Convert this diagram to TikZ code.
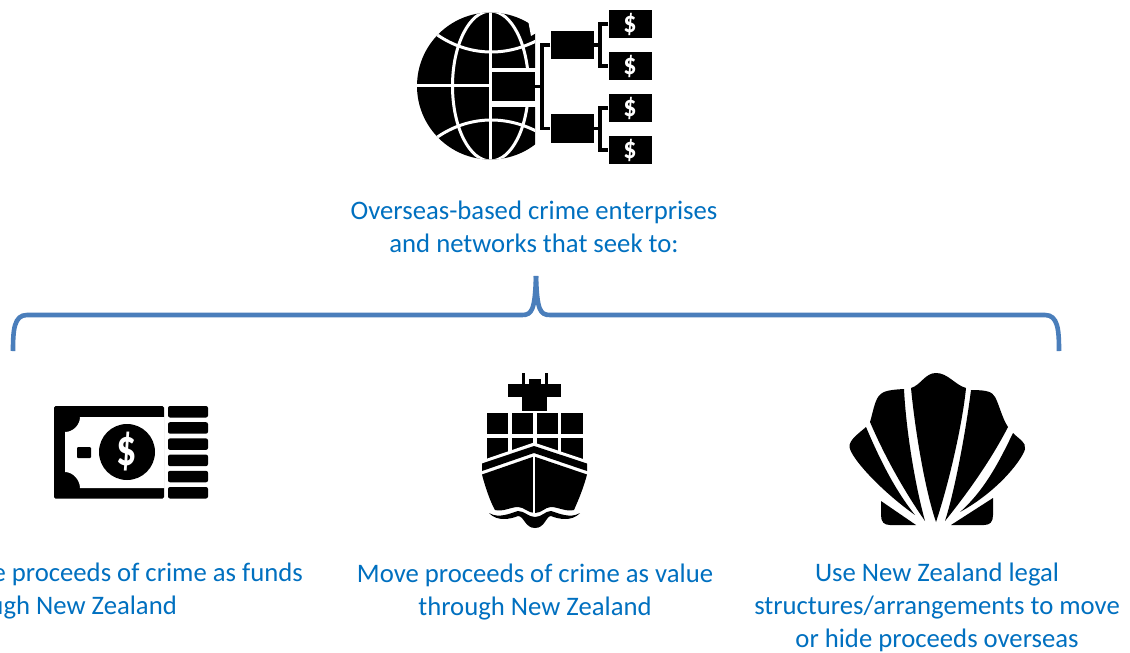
\documentclass[tikz,border=0pt]{standalone}
\usepackage{fontspec}
\setmainfont{Carlito}
\definecolor{txtblue}{HTML}{0070C0}
\definecolor{brace}{HTML}{4A7EBB}
\tikzset{
  lbl/.style={text=txtblue,font=\fontsize{26.7}{33}\selectfont,align=center,inner sep=0pt},
  frag/.style={text=txtblue,font=\fontsize{26.7}{33}\selectfont,inner sep=0pt},
  cut/.style={white,line width=3pt},
  wire/.style={black,line width=3.2pt},
  blk/.style={fill=black,draw=none,minimum width=43,minimum height=28.5,inner sep=0pt},
  dollar/.style={text=white,font=\bfseries\fontsize{26}{26}\selectfont,inner sep=0pt,yscale=1.15,transform shape}
}
\begin{document}
\begin{tikzpicture}[x=1pt,y=-1pt]
\useasboundingbox (0,0) rectangle (1130,653);
\fill[white] (0,0) rectangle (1130,653);
% globe
\begin{scope}
\clip (400,0) rectangle (535,170);
\fill[black] (490.5,86) circle[radius=73.5];
\begin{scope}
\clip (490.5,86) circle[radius=73.5];
\draw[cut] (490.5,0) -- (490.5,170);
\draw[cut] (410,85) -- (491,85);
\draw[cut] (490.5,86) ellipse[x radius=38,y radius=75];
\draw[cut] (436,34) .. controls (470,58) and (512,58) .. (548,34);
\draw[cut] (436,138) .. controls (470,114) and (512,114) .. (548,138);
\end{scope}
\end{scope}
\fill[white] (492,68) rectangle (540,106.5);
\fill[white] (528,20) -- (536,20) -- (536,33) -- (531,36) -- cycle;
\node[blk] (hub) at (513.5,86.5) {};
% org chart
\node[blk] (m1) at (572,45) {};
\node[blk] (m2) at (572,128.5) {};
\node[blk] (d1) at (630,24) {};
\node[blk] (d2) at (630,66) {};
\node[blk] (d3) at (630,108) {};
\node[blk] (d4) at (630,150) {};
\node[dollar] at (d1) {\$};
\node[dollar] at (d2) {\$};
\node[dollar] at (d3) {\$};
\node[dollar] at (d4) {\$};
\draw[wire] (hub.east) -- (542,86.5);
\draw[wire] (m1.west) -- (542,45) -- (542,128.5) -- (m2.west);
\draw[wire] (d1.west) -- (600,24) -- (600,66) -- (d2.west);
\draw[wire] (d3.west) -- (600,108) -- (600,150) -- (d4.west);
\draw[wire] (m1.east) -- (600,45);
\draw[wire] (m2.east) -- (600,128.5);
% title
\node[lbl] (title) at (534,227) {Overseas-based crime enterprises\\and networks that seek to:};
% brace
\draw[brace,line width=4.6pt,line cap=butt] (13,351) .. controls (13,330) and (14,315) .. (27,315)
 -- (522,315) .. controls (532,315) and (535,310) .. (536,276);
\draw[brace,line width=4.6pt] (536,276) .. controls (537,310) and (540,315) .. (550,315)
 -- (1045,315) .. controls (1058,315) and (1059,330) .. (1059,351);
% money icon
\fill[black,rounded corners=1.5pt] (54,406) rectangle (164,498.5);
\path[fill=white] (80,417) -- (164.5,417) -- (164.5,488) -- (80,488)
  .. controls (80,480) and (73,472) .. (65,472) -- (65,432) .. controls (73,432) and (80,425) .. (80,417) -- cycle;
\fill[black,rounded corners=1pt] (77,447) rectangle (91,458);
\fill[black] (127,452) circle[radius=28];
\node[text=white,font=\bfseries\fontsize{40}{40}\selectfont,inner sep=0pt,yscale=1.3,transform shape] (usd) at (127,452) {\$};
\foreach \yy in {406,422.2,438.4,454.6,470.8,487} {
  \fill[black,rounded corners=2pt] (168,\yy) rectangle (208,\yy+11.5);
}
% ship
\fill[black] (522,373) rectangle (524.5,386);
\fill[black] (545,373) rectangle (547.5,386);
\fill[black] (529,379) rectangle (541,386);
\fill[black] (508,384) rectangle (561,397);
\fill[black] (522,397) rectangle (547,411);
\foreach \xx/\ww in {487/21,512/21,537/21,561/21.5} {
  \fill[black] (\xx,413) rectangle +(\ww,21);
  \fill[black] (\xx,438) rectangle +(\ww,24);
}
\fill[white] (480,461) -- (534,442.5) -- (589,461) -- (589,480) -- (480,480) -- cycle;
\fill[black] (482,463.5) -- (534,446) -- (587,463.5) -- (587,471) -- (534,453) -- (482,471) -- cycle;
\fill[black] (482,474.5) -- (534,456.5) -- (587,474.5)
  .. controls (583,490) and (577,503) .. (574,510)
  .. controls (566,512) and (558,507) .. (551,507)
  .. controls (545,507) and (542,513) .. (535,513)
  .. controls (528,513) and (524,507) .. (518,507)
  .. controls (511,507) and (503,512) .. (495,510)
  .. controls (491,503) and (486,490) .. (482,474.5) -- cycle;
\draw[white,line width=1.7pt] (534,455) -- (534,514);
\fill[black] (489,513) .. controls (499,519) and (511,513) .. (518,511)
  .. controls (525,511) and (528,517) .. (535,517)
  .. controls (542,517) and (545,511) .. (551,511)
  .. controls (558,513) and (570,519) .. (580,513)
  .. controls (572,522) and (558,519) .. (551,516)
  .. controls (546,516) and (545,528) .. (535,528)
  .. controls (525,528) and (524,516) .. (518,516)
  .. controls (511,519) and (497,522) .. (489,513) -- cycle;
% shell
\fill[black] (911,388) .. controls (921,385) and (925,373) .. (936,373)
  .. controls (948,373) and (955,385) .. (966,388)
  .. controls (963,420) and (950,480) .. (936,522)
  .. controls (925,490) and (915,430) .. (911,388) -- cycle;
\fill[black] (904,389) .. controls (885,390) and (882,392) .. (878,397)
  .. controls (874,404) and (873,412) .. (870,422)
  .. controls (882,450) and (900,485) .. (925,521)
  .. controls (915,485) and (906,430) .. (904,389) -- cycle;
\fill[black] (971,390) .. controls (988,390) and (992,392) .. (995,397)
  .. controls (999,404) and (1002,418) .. (1008,427)
  .. controls (992,458) and (970,490) .. (945,521)
  .. controls (955,490) and (966,430) .. (971,390) -- cycle;
\fill[black] (866,427) .. controls (858,434) and (849,440) .. (849.5,447)
  .. controls (851,458) and (880,490) .. (915,515)
  .. controls (895,490) and (880,460) .. (866,427) -- cycle;
\fill[black] (1013,433) .. controls (1020,440) and (1026,442) .. (1025,449)
  .. controls (1023,458) and (1000,490) .. (960,512)
  .. controls (985,490) and (1000,460) .. (1013,433) -- cycle;
\fill[black] (881,501) -- (916,525) -- (890,525) .. controls (884,525) and (881,522) .. (881,515) -- cycle;
\fill[black] (993,498) -- (951,525) -- (984,525) .. controls (990,525) and (993,522) .. (993,515) -- cycle;
% labels
\node[frag,anchor=base east] (f1) at (303,581) {e proceeds of crime as funds};
\node[frag,anchor=base east] (f2) at (177,614) {ugh New Zealand};
\node[lbl] (mid) at (535,592) {Move proceeds of crime as value\\through New Zealand};
\node[lbl] (right) at (937,607.5) {Use New Zealand legal\\structures/arrangements to move\\or hide proceeds overseas};
\end{tikzpicture}
\end{document}
